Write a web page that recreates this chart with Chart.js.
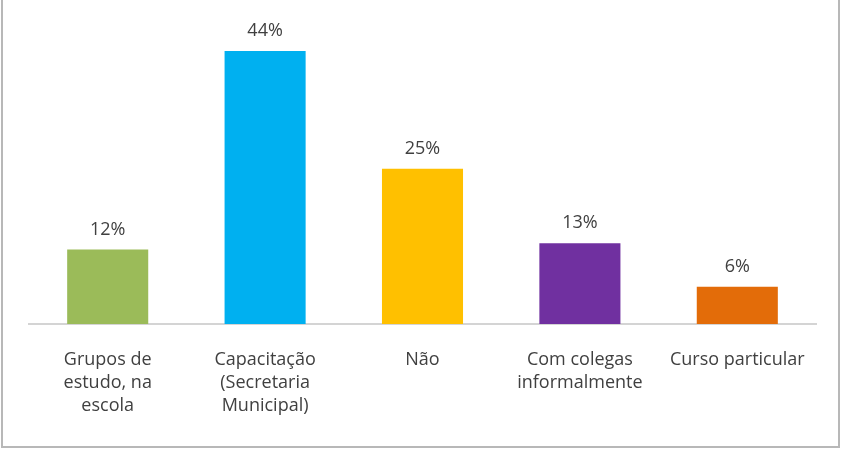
<!DOCTYPE html>
<html lang="pt">
<head>
    <meta charset="UTF-8">
    <title>Participação em formação</title>
    <script src="https://cdn.jsdelivr.net/npm/chart.js"></script>
    <style>
        body {
            margin: 0;
            background-color: white;
        }
        #wrap {
            position: relative;
            width: 848px;
            height: 454px;
        }
        #frame {
            position: absolute;
            left: 1px;
            top: -3px;
            width: 839px;
            height: 451px;
            box-sizing: border-box;
            border: 2px solid #b8b8b8;
            pointer-events: none;
        }
        canvas {
            position: absolute;
            left: 0;
            top: 0;
        }
    </style>
</head>
<body>
    <div id="wrap">
        <canvas id="chart" width="848" height="454"></canvas>
        <div id="frame"></div>
    </div>

    <script>
        // Data
        const categories = [
            ['Grupos de', 'estudo, na', 'escola'],
            ['Capacitação', '(Secretaria', 'Municipal)'],
            ['Não'],
            ['Com colegas', 'informalmente'],
            ['Curso particular']
        ];
        const percentages = [12, 44, 25, 13, 6];
        const barColors = ['#9bbb59', '#00b0f0', '#ffc000', '#7030a0', '#e36c09'];

        // Value labels above the bars
        const valueLabels = {
            id: 'valueLabels',
            afterDatasetsDraw(chart) {
                const ctx = chart.ctx;
                const meta = chart.getDatasetMeta(0);
                ctx.save();
                ctx.font = '18px "Open Sans"';
                ctx.fillStyle = '#404040';
                ctx.textAlign = 'center';
                ctx.textBaseline = 'middle';
                meta.data.forEach((bar, i) => {
                    ctx.fillText(percentages[i] + '%', bar.x, bar.y - 20);
                });
                ctx.restore();
            }
        };

        const ctx = document.getElementById('chart').getContext('2d');
        new Chart(ctx, {
            type: 'bar',
            data: {
                labels: categories,
                datasets: [{
                    data: percentages,
                    backgroundColor: barColors,
                    borderWidth: 0,
                    categoryPercentage: 1,
                    barPercentage: 0.515
                }]
            },
            options: {
                responsive: false,
                animation: false,
                layout: {
                    padding: { left: 29, right: 32, top: 20, bottom: 13 }
                },
                plugins: {
                    legend: { display: false },
                    tooltip: { enabled: false }
                },
                scales: {
                    x: {
                        grid: { display: false, drawTicks: false },
                        border: { display: true, color: '#d4d4d4', width: 2 },
                        ticks: {
                            color: '#404040',
                            font: { family: 'Open Sans', size: 18, lineHeight: 1.28 },
                            padding: 24,
                            maxRotation: 0,
                            autoSkip: false
                        }
                    },
                    y: {
                        display: false,
                        min: 0,
                        max: 49
                    }
                }
            },
            plugins: [valueLabels]
        });
    </script>
</body>
</html>
